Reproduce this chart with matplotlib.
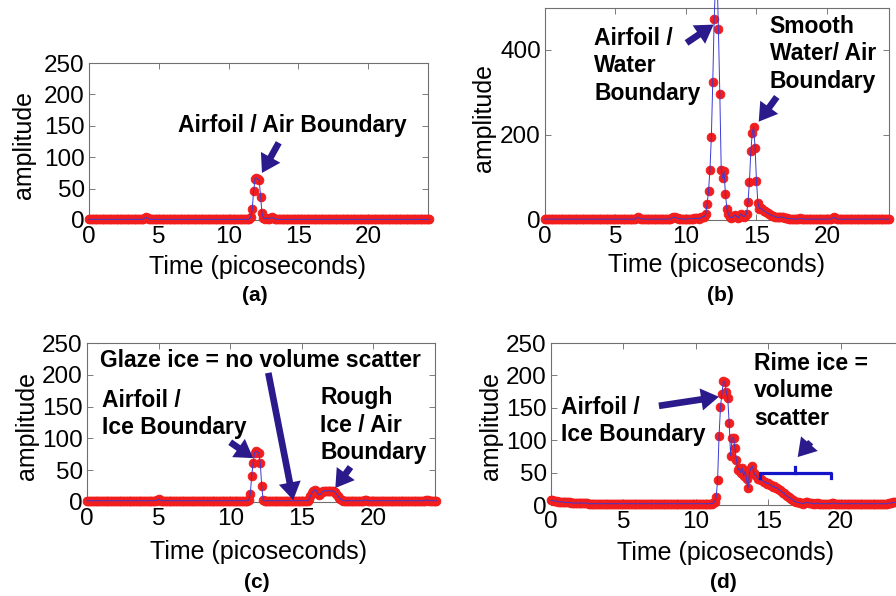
import numpy as np
import matplotlib
matplotlib.use("Agg")
import matplotlib.pyplot as plt

plt.rcParams['font.family'] = ['Liberation Sans', 'DejaVu Sans']

# Sample times (ps), 0.1 ps step
time_ps = np.round(np.arange(245) * 0.1, 1)

x_ticks = [0, 5, 10, 15, 20]
y_ticks_small = [0, 50, 100, 150, 200, 250]
y_ticks_large = [0, 200, 400]

# (a) bare airfoil
amp_a = [
    1, 1, 1, 1, 1, 1, 1, 1, 1, 1,
    1, 1, 1, 1, 1, 1, 1, 1, 1, 1,
    1, 1, 1, 1, 1, 1, 1, 1, 1, 1,
    1, 1, 1, 1, 1, 1, 1, 1, 1, 2,
    3, 4, 3, 2, 1, 1, 1, 1, 1, 1,
    1, 1, 1, 1, 1, 1, 1, 1, 1, 1,
    1, 1, 1, 1, 1, 1, 1, 1, 1, 1,
    1, 1, 1, 1, 1, 1, 1, 1, 1, 1,
    1, 1, 1, 1, 1, 1, 1, 1, 1, 1,
    1, 1, 1, 1, 1, 1, 1, 1, 1, 1,
    1, 1, 1, 1, 1, 1, 1, 1, 1, 1,
    1, 1, 1, 1, 1, 2, 5, 17, 46, 66,
    67, 65, 64, 37, 11, 3, 2, 3, 2, 2,
    3, 4, 3, 2, 2, 1, 1, 1, 1, 1,
    1, 1, 1, 1, 1, 1, 1, 1, 1, 1,
    1, 1, 1, 1, 1, 1, 1, 1, 1, 1,
    1, 1, 1, 1, 1, 1, 1, 1, 1, 1,
    1, 1, 1, 1, 1, 1, 1, 1, 1, 1,
    1, 1, 1, 1, 1, 1, 1, 1, 1, 1,
    1, 1, 1, 1, 1, 1, 1, 1, 1, 1,
    1, 1, 1, 1, 1, 1, 1, 1, 1, 1,
    1, 1, 1, 1, 1, 1, 1, 1, 1, 1,
    1, 1, 1, 1, 1, 1, 1, 1, 1, 1,
    1, 1, 1, 1, 1, 1, 1, 1, 1, 1,
    1, 1, 1, 1, 1,
]

# (b) water film
amp_b = [
    2, 2, 2, 2, 2, 2, 2, 2, 2, 2,
    2, 2, 2, 2, 2, 2, 2, 2, 2, 2,
    2, 2, 2, 2, 2, 2, 2, 2, 2, 2,
    2, 2, 2, 2, 2, 2, 2, 2, 2, 2,
    2, 2, 2, 2, 2, 2, 2, 2, 2, 2,
    2, 2, 2, 2, 2, 2, 2, 2, 2, 2,
    2, 2, 2, 2, 3, 5, 6, 4, 3, 2,
    2, 2, 2, 2, 2, 2, 2, 2, 2, 2,
    2, 2, 2, 2, 2, 2, 2, 2, 2, 3,
    5, 6, 6, 5, 4, 3, 3, 3, 2, 2,
    2, 3, 3, 3, 3, 3, 4, 4, 4, 3,
    4, 6, 8, 8, 14, 38, 69, 118, 196, 325,
    473, 560, 580, 449, 296, 118, 98, 114, 60, 27,
    15, 8, 5, 6, 10, 12, 8, 5, 10, 14,
    10, 8, 10, 15, 43, 90, 161, 205, 218, 169,
    92, 40, 27, 28, 25, 22, 20, 18, 16, 14,
    12, 10, 10, 8, 7, 6, 6, 7, 7, 6,
    5, 4, 4, 3, 3, 3, 3, 2, 2, 2,
    3, 4, 3, 2, 2, 2, 2, 2, 2, 2,
    2, 2, 2, 2, 2, 2, 2, 2, 2, 2,
    2, 2, 2, 3, 5, 6, 4, 3, 2, 2,
    2, 2, 2, 2, 2, 2, 2, 2, 2, 2,
    2, 2, 2, 2, 2, 2, 2, 2, 2, 2,
    2, 2, 2, 2, 2, 2, 2, 2, 2, 2,
    2, 2, 2, 2, 2,
]

# (c) glaze ice
amp_c = [
    2, 2, 2, 2, 2, 2, 2, 2, 2, 2,
    2, 2, 2, 2, 2, 2, 2, 2, 2, 2,
    2, 2, 2, 2, 2, 2, 2, 2, 2, 2,
    2, 2, 2, 2, 2, 2, 2, 2, 2, 2,
    2, 2, 2, 2, 2, 2, 2, 2, 2, 3,
    4, 3, 2, 2, 2, 2, 2, 2, 2, 2,
    2, 2, 2, 2, 2, 2, 2, 2, 2, 2,
    2, 2, 2, 2, 2, 2, 2, 2, 2, 2,
    2, 2, 2, 2, 2, 2, 2, 2, 2, 2,
    2, 2, 2, 2, 2, 2, 2, 2, 2, 2,
    2, 2, 2, 2, 2, 2, 2, 2, 2, 2,
    2, 2, 2, 3, 12, 41, 62, 77, 80, 79,
    77, 61, 25, 3, 2, 2, 2, 2, 2, 2,
    2, 2, 2, 2, 2, 2, 2, 2, 2, 2,
    2, 2, 2, 2, 2, 2, 2, 2, 2, 2,
    2, 2, 2, 2, 2, 4, 9, 14, 17, 19,
    18, 14, 11, 12, 15, 17, 18, 17, 18, 18,
    17, 18, 17, 16, 13, 10, 7, 5, 3, 2,
    2, 2, 2, 2, 2, 2, 2, 2, 2, 2,
    2, 2, 2, 2, 3, 3, 2, 2, 2, 2,
    2, 2, 2, 2, 2, 2, 2, 2, 2, 2,
    2, 2, 2, 2, 2, 2, 2, 2, 2, 2,
    2, 2, 2, 2, 2, 2, 2, 2, 2, 2,
    2, 2, 2, 2, 2, 2, 2, 3, 3, 2,
    2, 2, 2, 2, 2,
]

# (d) rime ice
amp_d = [
    7, 7, 6, 6, 6, 5, 5, 5, 5, 4,
    4, 4, 4, 4, 3, 3, 3, 3, 3, 3,
    3, 3, 3, 3, 3, 3, 2, 2, 2, 2,
    2, 2, 2, 2, 2, 2, 2, 2, 2, 2,
    2, 2, 2, 2, 2, 2, 2, 2, 2, 2,
    2, 2, 2, 2, 2, 2, 2, 2, 2, 2,
    2, 2, 2, 2, 2, 2, 2, 2, 2, 2,
    2, 2, 2, 2, 2, 2, 2, 2, 2, 2,
    2, 2, 2, 2, 2, 2, 2, 2, 2, 2,
    2, 2, 2, 2, 2, 2, 2, 2, 2, 2,
    2, 2, 2, 2, 2, 2, 2, 2, 2, 2,
    2, 2, 3, 5, 12, 38, 106, 151, 172, 191,
    190, 175, 165, 126, 76, 103, 104, 88, 70, 54,
    57, 50, 57, 45, 52, 40, 26, 50, 57, 60,
    50, 46, 44, 40, 41, 38, 38, 35, 36, 33,
    34, 31, 31, 28, 29, 26, 27, 24, 23, 21,
    19, 18, 15, 14, 12, 11, 9, 8, 6, 5,
    4, 4, 3, 3, 2, 3, 4, 4, 3, 3,
    3, 2, 2, 3, 3, 2, 2, 2, 2, 2,
    2, 2, 2, 2, 3, 3, 2, 2, 2, 2,
    2, 2, 2, 2, 2, 2, 2, 2, 2, 2,
    2, 2, 2, 2, 2, 2, 2, 2, 2, 2,
    2, 2, 2, 2, 2, 2, 2, 2, 2, 2,
    2, 2, 2, 3, 3, 3, 4, 4, 4, 5,
    5, 5, 4, 4, 4,
]

RED = '#f21d1d'
BLUE = '#3a3ad6'
NAVY = '#2a1a8c'
BRACKET = '#1414c8'
W, H = 896, 596

fig = plt.figure(figsize=(W / 100, H / 100), dpi=100)


def box(left, top, right, bottom):
    return [left / W, 1 - bottom / H, (right - left) / W, (bottom - top) / H]


def fxy(x, y):
    return x / W, 1 - y / H


def make_panel(rect, values, xmax, ymax, yticks):
    ax = fig.add_axes(rect)
    ax.plot(time_ps, values, ls='none', marker='o', ms=6.3, mfc=RED,
            mec=RED, mew=0.6, clip_on=False, zorder=3)
    ax.plot(time_ps, values, color=BLUE, lw=0.7, clip_on=False, zorder=4)
    ax.set_xlim(0, xmax)
    ax.set_ylim(0, ymax)
    ax.set_xticks(x_ticks)
    ax.set_yticks(yticks)
    ax.tick_params(direction='in', length=4, width=0.6, color='#666666',
                   top=True, right=True, labelsize=17.5)
    ax.tick_params(axis='x', pad=4)
    ax.tick_params(axis='y', pad=3)
    for s in ax.spines.values():
        s.set_color('#707070')
        s.set_linewidth(0.8)
    return ax


def arrow(ax, tail, head):
    ax.annotate('', xy=head, xytext=tail, annotation_clip=False,
                arrowprops=dict(arrowstyle='simple,head_length=0.8,head_width=1.0,tail_width=0.3',
                                mutation_scale=16, fc=NAVY, ec=NAVY, lw=0,
                                shrinkA=0, shrinkB=0), zorder=6)


def note(ax, x, y, s, ha='left'):
    ax.text(x, y, s, fontsize=16.5, fontweight='bold', ha=ha, va='center',
            linespacing=1.25, zorder=6)


ax_a = make_panel(box(89, 63, 428, 220), amp_a, 24.3, 250, y_ticks_small)
ax_b = make_panel(box(545, 8, 889, 220), amp_b, 24.4, 498, y_ticks_large)
ax_c = make_panel(box(87, 343, 435, 502), amp_c, 24.3, 250, y_ticks_small)
ax_d = make_panel(box(551, 343, 903, 505), amp_d, 24.3, 250, y_ticks_small)

# axis titles and panel letters
for (xl, yl, yl2, tag) in [((257, 267), (24, 145), (255, 296), '(a)'),
                           ((716, 265), (484, 118), (720, 296), '(b)'),
                           ((258, 552), (27, 426), (257, 582), '(c)'),
                           ((725, 553), (491, 426), (723, 582), '(d)')]:
    fig.text(*fxy(*xl), 'Time (picoseconds)', fontsize=18, ha='center', va='center')
    fig.text(*fxy(*yl), 'amplitude', fontsize=18, rotation=90, ha='center', va='center')
    fig.text(*fxy(*yl2), tag, fontsize=15, fontweight='bold', ha='center', va='center')

# (a)
note(ax_a, 14.55, 151, 'Airfoil / Air Boundary', ha='center')
arrow(ax_a, (13.6, 123), (12.4, 75))

# (b)
note(ax_b, 3.49, 362, 'Airfoil /\nWater\nBoundary')
arrow(ax_b, (10.04, 416), (11.96, 459))
note(ax_b, 15.94, 390, 'Smooth\nWater/ Air\nBoundary')
arrow(ax_b, (16.44, 289), (15.16, 231))

# (c)
note(ax_c, 0.91, 222, 'Glaze ice = no volume scatter')
arrow(ax_c, (12.66, 203), (14.4, 3))
note(ax_c, 1.05, 138, 'Airfoil /\nIce Boundary')
arrow(ax_c, (10.0, 94), (11.6, 69))
note(ax_c, 16.3, 121, 'Rough\nIce / Air\nBoundary')
arrow(ax_c, (18.4, 55), (17.34, 22))

# (d)
note(ax_d, 0.69, 130, 'Airfoil /\nIce Boundary')
arrow(ax_d, (7.45, 153), (11.59, 167))
note(ax_d, 14.0, 176, 'Rime ice =\nvolume\nscatter')
arrow(ax_d, (17.93, 97), (17.03, 74))
# brace under the volume-scatter label
ax_d.plot([14.41, 14.41, 19.31, 19.31], [42, 49, 49, 42], color=BRACKET,
          lw=2.3, solid_joinstyle='round', zorder=6)
ax_d.plot([16.83, 16.83], [49, 59], color=BRACKET, lw=2.3, zorder=6)

fig.savefig('out.png', dpi=100)
